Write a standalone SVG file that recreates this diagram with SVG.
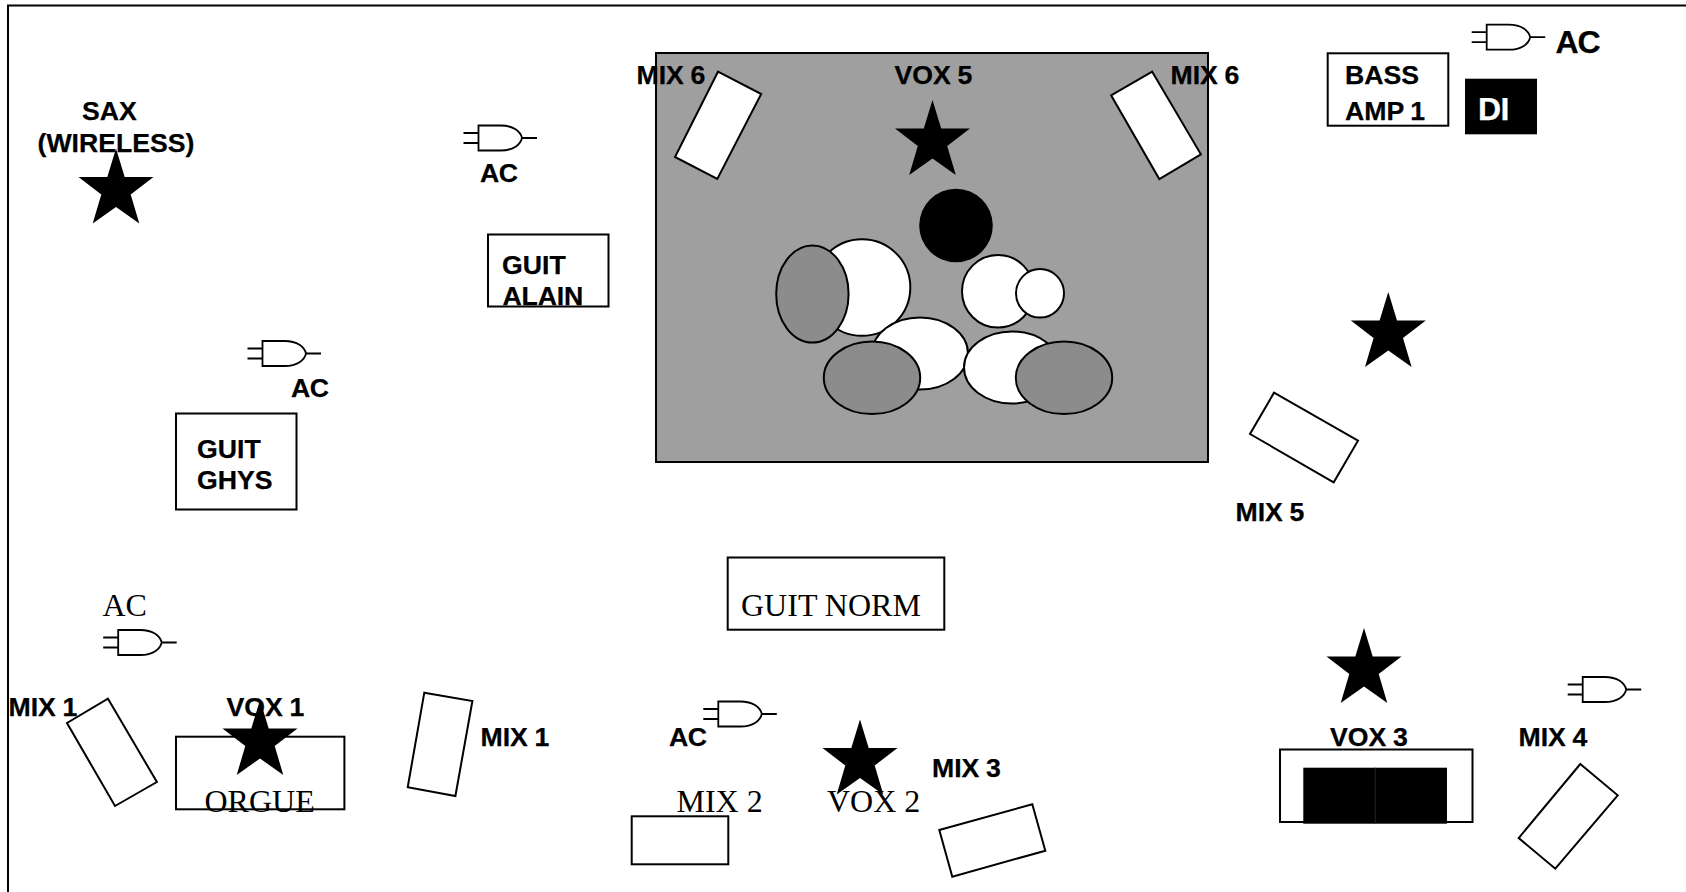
<svg xmlns="http://www.w3.org/2000/svg" width="1686" height="892" viewBox="0 0 1686 892">
<style>
.s{fill:#fff;stroke:#000;stroke-width:2}
.n{fill:none;stroke:#000;stroke-width:2}
.g{fill:#8c8c8c;stroke:#000;stroke-width:2}
.b{font-family:"Liberation Sans",Arial,sans-serif;font-weight:700;font-size:26.67px;fill:#000;stroke:#000;stroke-width:.25}
.w{word-spacing:-.8px}
.t{font-family:"Liberation Serif","Times New Roman",serif;font-size:32px;fill:#000}
.gate{fill:none;stroke:#000;stroke-width:1.8}
</style>
<defs>
<polygon id="star" points="0,0 8.7,28.5 37.5,28.5 14.7,46 23.3,75 0,58.5 -23.3,75 -14.7,46 -37.5,28.5 -8.7,28.5" fill="#000"/>
<path id="plug" class="gate" d="M0 7.5H15M0 17.5H15M15 0H37C50 0 57 6 58.5 12.5C57 19 50 25 37 25H15ZM58.5 12.5H73.5"/>
</defs>
<rect width="1686" height="892" fill="#fff"/>
<path id="frame" class="n" d="M8 892V5.5H1686"/>
<g id="drum-riser">
<rect x="656" y="53" width="552" height="409" fill="#9f9f9f" stroke="#000" stroke-width="2"/>
<polygon class="s" points="718,71.7 761.2,94 717.3,179 675,157"/>
<polygon class="s" points="1152.2,71.7 1200.9,154.3 1159.3,179 1111.1,95.3"/>
<text class="b w" x="636.5" y="84">MIX 6</text>
<text class="b w" x="894.5" y="84">VOX 5</text>
<text class="b w" x="1170.5" y="84">MIX 6</text>
<use href="#star" x="932.5" y="100"/>
<circle cx="956" cy="225.5" r="36.8" fill="#000"/>
</g>
<g id="drums">
<ellipse class="s" cx="862" cy="287.5" rx="48.3" ry="48.3"/>
<ellipse class="g" cx="812.4" cy="294" rx="36.2" ry="48.5"/>
<ellipse class="s" cx="998" cy="291.3" rx="36" ry="36.3"/>
<ellipse class="s" cx="1040" cy="293.3" rx="24" ry="24.3"/>
<ellipse class="s" cx="920" cy="353.5" rx="48" ry="36"/>
<ellipse class="g" cx="872" cy="377.8" rx="48.2" ry="36.3"/>
<ellipse class="s" cx="1012" cy="367.5" rx="48" ry="36"/>
<ellipse class="g" cx="1064" cy="377.8" rx="48.2" ry="36.3"/>
</g>
<g id="sax">
<text class="b" x="82" y="120">SAX</text>
<text class="b" x="37.5" y="152">(WIRELESS)</text>
<use href="#star" x="116" y="148.5"/>
</g>
<g id="ac-1"><use href="#plug" x="463.5" y="125.5"/><text class="b" x="480" y="182" style="letter-spacing:-.4px">AC</text></g>
<g id="ac-2"><use href="#plug" x="247.5" y="341"/><text class="b" x="291" y="397" style="letter-spacing:-.4px">AC</text></g>
<g id="guit-alain">
<rect class="n" x="488" y="234.5" width="120.5" height="72"/>
<text class="b" x="502" y="274">GUIT</text>
<text class="b" x="502.5" y="305" style="letter-spacing:-.2px">ALAIN</text>
</g>
<g id="guit-ghys">
<rect class="n" x="176" y="413.5" width="120.5" height="96"/>
<text class="b" x="197" y="458">GUIT</text>
<text class="b" x="197" y="489">GHYS</text>
</g>
<g id="bass-amp">
<rect class="n" x="1327.7" y="53.3" width="120.6" height="72.4"/>
<text class="b" x="1345" y="83.5">BASS</text>
<text class="b w" x="1345" y="120">AMP 1</text>
</g>
<g id="di">
<rect x="1465" y="78.7" width="72" height="55.6" fill="#000"/>
<text class="b" x="1478" y="119.5" style="font-size:32px;fill:#fff;stroke:#fff;letter-spacing:-.6px">DI</text>
</g>
<g id="ac-3"><use href="#plug" x="1471.7" y="24.7"/><text class="b" x="1555.5" y="53" style="font-size:32px;letter-spacing:-1.2px">AC</text></g>
<g id="vox-4"><use href="#star" x="1388.3" y="292"/></g>
<g id="mix-5">
<polygon class="s" points="1274,392.7 1358,440.7 1333.7,482.3 1250,434"/>
<text class="b w" x="1235.5" y="521">MIX 5</text>
</g>
<g id="guit-norm">
<rect class="n" x="727.7" y="557.5" width="216.6" height="72.2"/>
<text class="t" x="741" y="616">GUIT NORM</text>
</g>
<g id="ac-4">
<text class="t" x="102.5" y="616">AC</text>
<use href="#plug" x="103.2" y="630"/>
</g>
<g id="mix-1-left">
<text class="b w" x="8.5" y="716">MIX 1</text>
<polygon class="s" points="108,698.7 156.9,782 115,806 67,723"/>
</g>
<g id="orgue">
<rect class="n" x="176" y="736.7" width="168.4" height="72.6"/>
<text class="b w" x="226.5" y="716">VOX 1</text>
<text class="t" x="204.5" y="812">ORGUE</text>
<use href="#star" x="260" y="700"/>
</g>
<g id="mix-1-right">
<polygon class="s" points="424.3,692.7 472.4,701 455.4,796 407.7,787.3"/>
<text class="b w" x="480.5" y="746">MIX 1</text>
</g>
<g id="ac-5"><use href="#plug" x="703.3" y="701.5"/><text class="b" x="669" y="746" style="letter-spacing:-.4px">AC</text></g>
<g id="mix-2">
<text class="t" x="676.5" y="812">MIX 2</text>
<rect class="n" x="631.7" y="816.3" width="96.6" height="48"/>
</g>
<g id="vox-2">
<use href="#star" x="860" y="719.5"/>
<text class="t" x="827" y="812">VOX 2</text>
</g>
<g id="mix-3">
<text class="b w" x="932" y="777">MIX 3</text>
<polygon class="s" points="1032.3,804.3 1045.3,850.7 952.3,876.7 939.3,830"/>
</g>
<g id="vox-3">
<use href="#star" x="1364" y="628"/>
<text class="b w" x="1330" y="746">VOX 3</text>
<rect class="n" x="1280" y="749.5" width="192.5" height="72.5"/>
<rect x="1303.3" y="767.7" width="143.7" height="56" fill="#000"/>
<path d="M1375.3 767.7V823.7" stroke="#222" stroke-width="1"/>
</g>
<g id="mix-4">
<use href="#plug" x="1567.7" y="677"/>
<text class="b w" x="1518.5" y="746">MIX 4</text>
<polygon class="s" points="1580.3,764 1617.7,795.3 1555.3,868.7 1518.7,838"/>
</g>
</svg>
